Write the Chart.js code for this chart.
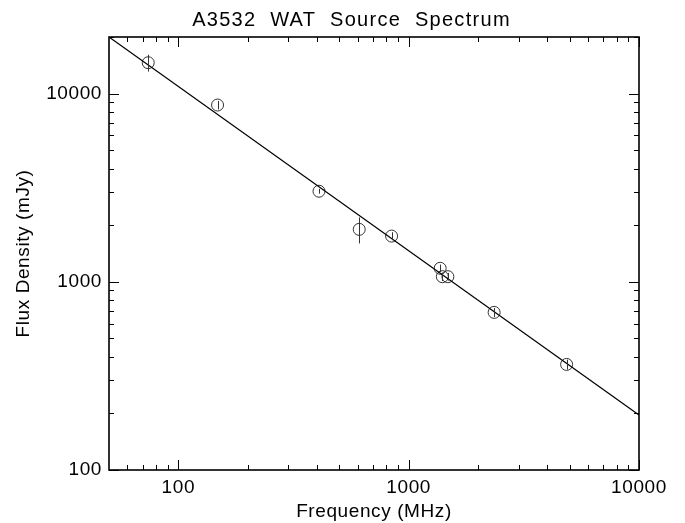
<!DOCTYPE html>
<html>
<head>
<meta charset="utf-8">
<title>A3532 WAT Source Spectrum</title>
<script src="https://cdn.jsdelivr.net/npm/chart.js@4.4.1/dist/chart.umd.min.js"></script>
<style>
  html, body { margin: 0; padding: 0; background: #fff; }
  #wrap { width: 685px; height: 523px; }
</style>
</head>
<body>
<div id="wrap"><canvas id="spectrum"></canvas></div>
<script>
// flux density measurements (MHz, mJy)
const freqMHz = [74, 148, 408, 610, 843, 1370, 1400, 1480, 2350, 4850];
const fluxMJy = [14600, 8700, 3030, 1900, 1750, 1180, 1065, 1065, 688, 364];
const fluxErr = [1500, 450, 90, 300, 85, 55, 55, 50, 38, 22];

// power-law fit, evaluated at the ends of the frequency range
const fitFreq = [50, 10000];
const fitFlux = [20000, 196];

// axis ticks
const xMajor = [100, 1000, 10000];
const xMinor = [60, 70, 80, 90, 200, 300, 400, 500, 600, 700, 800, 900,
  2000, 3000, 4000, 5000, 6000, 7000, 8000, 9000];
const yMajor = [100, 1000, 10000];
const yMinor = [200, 300, 400, 500, 600, 700, 800, 900,
  2000, 3000, 4000, 5000, 6000, 7000, 8000, 9000, 20000];

const FONT = "Liberation Sans, Arial, Helvetica, sans-serif";

// vertical error bars through each point
const errorBars = {
  id: "errorBars",
  afterDatasetsDraw(chart) {
    const ctx = chart.ctx;
    const x = chart.scales.x;
    const y = chart.scales.y;
    ctx.save();
    ctx.strokeStyle = "#333";
    ctx.lineWidth = 1;
    ctx.beginPath();
    freqMHz.forEach((f, i) => {
      const px = Math.round(x.getPixelForValue(f)) + 0.5;
      ctx.moveTo(px, y.getPixelForValue(fluxMJy[i] + fluxErr[i]));
      ctx.lineTo(px, y.getPixelForValue(fluxMJy[i] - fluxErr[i]));
    });
    ctx.stroke();
    ctx.restore();
  },
};

// closed frame with inward ticks on all four sides, plus the title
const frameTicks = {
  id: "frameTicks",
  beforeDraw(chart) {
    chart.ctx.letterSpacing = "0.6px";
  },
  afterDraw(chart) {
    const ctx = chart.ctx;
    const a = chart.chartArea;
    const x = chart.scales.x;
    const y = chart.scales.y;
    ctx.save();
    ctx.strokeStyle = "#000";
    ctx.lineWidth = 1;
    ctx.beginPath();
    xMajor.concat(xMinor).forEach((v) => {
      const len = xMajor.includes(v) ? 10 : 5;
      const px = Math.round(x.getPixelForValue(v)) + 0.5;
      ctx.moveTo(px, a.bottom);
      ctx.lineTo(px, a.bottom - len);
      ctx.moveTo(px, a.top);
      ctx.lineTo(px, a.top + len);
    });
    yMajor.concat(yMinor).forEach((v) => {
      const len = yMajor.includes(v) ? 10 : 5;
      const py = Math.round(y.getPixelForValue(v)) + 0.5;
      ctx.moveTo(a.left, py);
      ctx.lineTo(a.left + len, py);
      ctx.moveTo(a.right, py);
      ctx.lineTo(a.right - len, py);
    });
    ctx.stroke();

    ctx.lineWidth = 1.6;
    ctx.strokeRect(a.left, a.top, a.right - a.left, a.bottom - a.top);

    ctx.fillStyle = "#000";
    ctx.font = "20px " + FONT;
    ctx.letterSpacing = "1.3px";
    ctx.textAlign = "center";
    ctx.textBaseline = "middle";
    ctx.fillText("A3532  WAT  Source  Spectrum", chart.width / 2 + 9, 20);
    ctx.restore();
  },
};

const points = freqMHz.map((f, i) => ({ x: f, y: fluxMJy[i] }));
const fit = fitFreq.map((f, i) => ({ x: f, y: fitFlux[i] }));

new Chart(document.getElementById("spectrum"), {
  type: "scatter",
  data: {
    datasets: [
      {
        label: "Fit",
        data: fit,
        showLine: true,
        borderColor: "#000",
        borderWidth: 1.2,
        pointRadius: 0,
      },
      {
        label: "Flux",
        data: points,
        pointStyle: "circle",
        pointRadius: 6,
        pointBorderWidth: 1,
        pointBorderColor: "#333",
        pointBackgroundColor: "rgba(0,0,0,0)",
      },
    ],
  },
  options: {
    responsive: true,
    maintainAspectRatio: false,
    devicePixelRatio: 1,
    animation: false,
    layout: { padding: { top: 37, right: 46, left: 0, bottom: 0 } },
    plugins: {
      legend: { display: false },
      tooltip: { enabled: false },
    },
    scales: {
      x: {
        type: "logarithmic",
        position: "bottom",
        min: 50,
        max: 10000,
        grid: { display: false, drawTicks: false },
        border: { display: false },
        afterBuildTicks: (scale) => {
          scale.ticks = xMajor.map((v) => ({ value: v }));
        },
        afterFit: (scale) => {
          scale.height = 53;
        },
        ticks: {
          color: "#000",
          padding: 6,
          maxRotation: 0,
          font: { family: FONT, size: 19 },
          callback: (v) => String(v),
        },
        title: {
          display: true,
          text: "Frequency (MHz)",
          color: "#000",
          padding: { top: 0, bottom: 0 },
          font: { family: FONT, size: 19 },
        },
      },
      y: {
        type: "logarithmic",
        position: "left",
        min: 100,
        max: 20000,
        grid: { display: false, drawTicks: false },
        border: { display: false },
        afterBuildTicks: (scale) => {
          scale.ticks = yMajor.map((v) => ({ value: v }));
        },
        afterFit: (scale) => {
          scale.width = 109;
        },
        ticks: {
          color: "#000",
          padding: 7,
          font: { family: FONT, size: 19 },
          callback: (v) => String(v),
        },
        title: {
          display: true,
          text: "Flux Density (mJy)",
          color: "#000",
          padding: { top: 12, bottom: 0 },
          font: { family: FONT, size: 19 },
        },
      },
    },
  },
  plugins: [errorBars, frameTicks],
});
</script>
</body>
</html>
